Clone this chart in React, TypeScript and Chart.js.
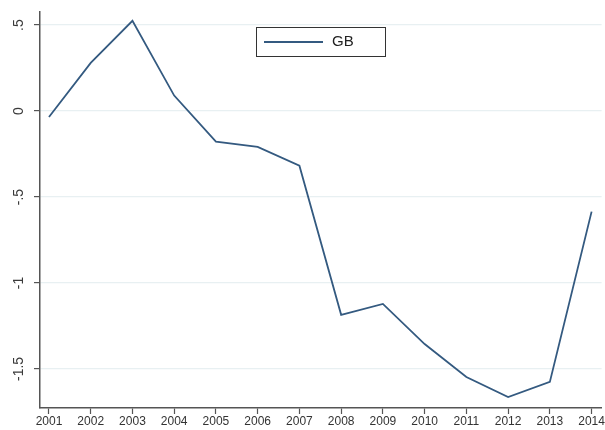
import React, { useEffect, useRef } from "react";
import { Chart, registerables } from "chart.js";

Chart.register(...registerables);

const years = [2001, 2002, 2003, 2004, 2005, 2006, 2007, 2008, 2009, 2010, 2011, 2012, 2013, 2014];
const gbValues = [-0.035, 0.28, 0.525, 0.09, -0.178, -0.208, -0.318, -1.185, -1.122, -1.355, -1.547, -1.663, -1.575, -0.585];
const yTickValues = [-1.5, -1, -0.5, 0, 0.5];
const yTickLabels = ["-1.5", "-1", "-.5", "0", ".5"];
const seriesLabel = "GB";

const lineColor = "#345a80";

export default function App() {
  const ref = useRef<HTMLCanvasElement | null>(null);

  useEffect(() => {
    document.body.style.margin = "0";
    const canvas = ref.current;
    if (!canvas) return;

    const yLabelPlugin = {
      id: "yLabels",
      afterDraw(chart: any) {
        const ctx = chart.ctx;
        const y = chart.scales.y;
        ctx.save();
        ctx.fillStyle = "#3a3a3a";
        ctx.font = "14px 'Liberation Sans', Arial, sans-serif";
        ctx.textAlign = "center";
        ctx.textBaseline = "middle";
        yTickValues.forEach((v, i) => {
          const py = y.getPixelForValue(v);
          ctx.save();
          ctx.translate(19, py);
          ctx.rotate(-Math.PI / 2);
          ctx.fillText(yTickLabels[i], 0, 0);
          ctx.restore();
        });
        ctx.restore();
      },
    };

    const legendPlugin = {
      id: "boxLegend",
      afterDraw(chart: any) {
        const ctx = chart.ctx;
        ctx.save();
        ctx.fillStyle = "#fff";
        ctx.fillRect(256, 27, 129, 29);
        ctx.strokeStyle = "#333";
        ctx.lineWidth = 1;
        ctx.strokeRect(256.5, 27.5, 129, 29);
        ctx.strokeStyle = lineColor;
        ctx.lineWidth = 2;
        ctx.beginPath();
        ctx.moveTo(264, 42);
        ctx.lineTo(323, 42);
        ctx.stroke();
        ctx.fillStyle = "#222";
        ctx.font = "15px 'Liberation Sans', Arial, sans-serif";
        ctx.textAlign = "left";
        ctx.textBaseline = "middle";
        ctx.fillText(chart.data.datasets[0].label, 332, 42);
        ctx.restore();
      },
    };

    const chart = new Chart(canvas, {
      type: "line",
      data: {
        datasets: [
          {
            label: seriesLabel,
            data: years.map((yr, i) => ({ x: yr, y: gbValues[i] })),
            borderColor: lineColor,
            borderWidth: 1.8,
            pointRadius: 0,
            tension: 0,
            fill: false,
          },
        ],
      },
      options: {
        animation: false,
        responsive: false,
        maintainAspectRatio: false,
        layout: { padding: { top: 12, right: 3, left: 0, bottom: 0 } },
        plugins: { legend: { display: false }, tooltip: { enabled: false } },
        scales: {
          x: {
            type: "linear",
            min: 2000.785,
            max: 2014.24,
            afterBuildTicks: (s: any) => {
              s.ticks = years.map((v) => ({ value: v }));
            },
            afterFit: (s: any) => {
              s.height = 22;
            },
            ticks: {
              autoSkip: false,
              maxRotation: 0,
              minRotation: 0,
              padding: 0,
              color: "#333",
              font: { family: "'Liberation Sans', Arial, sans-serif", size: 12 },
              callback: (v: any) => String(v),
            },
            grid: { drawOnChartArea: false, drawTicks: true, tickLength: 6, tickColor: "#555", tickWidth: 1.2 },
            border: { display: true, color: "#555", width: 1.5 },
          },
          y: {
            type: "linear",
            min: -1.727,
            max: 0.576,
            afterBuildTicks: (s: any) => {
              s.ticks = yTickValues.map((v) => ({ value: v }));
            },
            afterFit: (s: any) => {
              s.width = 40;
            },
            ticks: { display: false },
            grid: {
              color: "#e8f0f2",
              lineWidth: 1.2,
              drawTicks: true,
              tickLength: 6,
              tickColor: "#555",
              tickWidth: 1.2,
            },
            border: { display: true, color: "#555", width: 1.5 },
          },
        },
      },
      plugins: [yLabelPlugin, legendPlugin],
    });

    return () => chart.destroy();
  }, []);

  return (
    <div style={{ position: "fixed", left: 0, top: 0, width: 605, height: 430, background: "#fff" }}>
      <canvas ref={ref} width={605} height={430} style={{ width: 605, height: 430, display: "block" }} />
    </div>
  );
}
